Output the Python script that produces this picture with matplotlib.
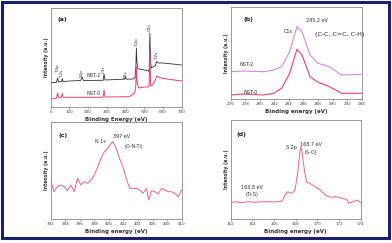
import matplotlib
matplotlib.use("Agg")
import matplotlib.pyplot as plt
from matplotlib.patches import Rectangle

# ---- panel (a): survey spectra ----
a_energy_nst2 = [0, 30, 37, 42, 58, 62, 66, 100, 160, 168, 175, 280, 285, 290, 395, 400, 405,
                 440, 450, 455, 458, 461, 465, 470, 500, 520, 526, 530, 534, 538, 545, 560,
                 566, 575, 600, 650, 700]
a_int_nst2 = [24.3, 24.5, 29, 25, 25.5, 28.5, 25.5, 26, 26.5, 30, 26.5, 26.7, 33, 27, 27.8, 30,
              27.8, 28, 29.3, 40, 59, 45, 39, 38, 37, 36.5, 35, 74, 45, 39, 40, 41.5,
              45.5, 44, 44, 43, 42]
a_energy_nst0 = [0, 30, 37, 42, 58, 62, 66, 100, 280, 285, 290, 420, 440, 450, 455, 458, 462,
                 470, 500, 520, 526, 530, 534, 540, 555, 566, 575, 600, 700]
a_int_nst0 = [8, 8.5, 14, 9.5, 9.7, 13.5, 9.8, 9.7, 9.7, 17, 10, 10.3, 12.7, 14.7, 22, 40, 24,
              19, 20, 20, 21, 57, 21, 21.5, 25, 31, 30, 28.5, 26]
a_peaks = ["Ti3p", "Ti3s", "S2p", "C1s", "N1s", "Ti2p", "O1s", "Ti2s"]
a_peak_pos = [37, 62, 166, 285, 402, 460, 530, 566]
a_peak_lab_y = [34, 29, 30, 34, 29, 60, 76, 47]

# ---- panel (b): C1s ----
b_energy = [276, 277.7, 280.5, 281.9, 283.0, 284.1, 285.1, 285.8, 286.9, 288.0, 289.6, 291.2, 294]
b_nst2 = [27.3, 28, 27.3, 29, 32.3, 47.3, 72.3, 67.3, 44, 35.7, 32.3, 24, 24.7]
b_nst0 = [4, 5, 4, 5.7, 10.7, 25.7, 49.7, 44, 22.3, 16.7, 12.3, 5.7, 5.7]

# ---- panel (c): N1s ----
c_energy = [392.0, 392.46, 392.92, 393.38, 393.85, 394.31, 394.77, 395.23, 395.69, 396.15,
            396.61, 397.08, 397.54, 398.0, 398.46, 398.92, 399.38, 399.85, 400.31, 400.54,
            401.0, 401.46, 401.92, 402.38, 402.85, 403.3, 403.77, 404.23, 404.7, 405.15,
            405.47, 405.85, 406.3, 406.77, 407.23, 407.7, 408.15, 408.6, 409.07, 409.54, 410]
c_int = [39, 27.3, 32.3, 34, 32.3, 28.3, 34, 27.3, 40.7, 34,
         37.3, 35.7, 39, 44, 52.3, 60.7, 67.3, 70.7, 75.7, 77.3,
         70.7, 60.7, 52.3, 40.7, 30.7, 30.7, 30.7, 29, 25.7, 30.7,
         19, 28.3, 27.3, 25, 30.7, 29, 27.3, 27.3, 25.7, 22.3, 29]

# ---- panel (d): S2p ----
d_energy = [162.0, 162.4, 163.0, 163.6, 164.25, 164.86, 165.48, 166.1, 166.77, 167.0, 167.26,
            167.63, 167.94, 168.18, 168.4, 168.5, 168.6, 168.8, 169.0, 169.3, 169.8, 170.25,
            170.86, 171.3, 171.8, 172.25, 172.7, 172.9, 173.3, 173.7, 174.0]
d_int = [16.3, 17.3, 16.3, 17.3, 16.7, 17.3, 17.3, 17, 18, 24, 27.3,
         25.7, 29, 45.7, 67.3, 72.3, 65.7, 49, 37.3, 35.7, 32.3, 29,
         23, 21.7, 22.3, 20.7, 19.7, 15.7, 17.3, 19, 16.3]

black = "#333333"
red = "#f0406a"
violet = "#d488e6"
pink = "#f2627e"
spine = "#8a8a8a"

fig = plt.figure(figsize=(3.92, 2.43), dpi=100)
fig.patches.append(Rectangle((1.5 / 392, 5 / 243), 387.5 / 392, 236 / 243,
                             transform=fig.transFigure, fill=False,
                             edgecolor="#1c1f6e", linewidth=2.2))

ax_a = fig.add_axes([0.1293, 0.5597, 0.3342, 0.4074])
ax_b = fig.add_axes([0.5885, 0.5926, 0.3342, 0.3774])
ax_c = fig.add_axes([0.1293, 0.0988, 0.3342, 0.3990])
ax_d = fig.add_axes([0.5885, 0.0988, 0.3316, 0.4074])


def style(ax, xlim, ylim, ticks, xlabel):
    ax.set_xlim(*xlim)
    ax.set_ylim(*ylim)
    ax.set_xticks(ticks)
    ax.set_yticks([])
    for s in ax.spines.values():
        s.set_color(spine)
        s.set_linewidth(0.6)
    ax.tick_params(axis="x", labelsize=3, length=1.5, width=0.5, pad=1,
                   colors=spine, labelcolor="#444444")
    ax.set_xlabel(xlabel, fontsize=4, fontweight="bold", labelpad=1.5, color="#333333")
    ax.set_ylabel("Intensity (a.u.)", fontsize=3.3, fontweight="bold", labelpad=1.5,
                  color="#333333")


# (a)
ax_a.plot(a_energy_nst2, a_int_nst2, color=black, lw=0.6)
ax_a.plot(a_energy_nst0, a_int_nst0, color=red, lw=0.7)
for name, e, y in zip(a_peaks, a_peak_pos, a_peak_lab_y):
    ax_a.text(e, y, name, rotation=90, fontsize=3, ha="center", va="bottom", color="#333333")
ax_a.text(228, 31, "NST-2", fontsize=3.5, ha="center", va="center", color="#333333")
ax_a.text(228, 13.7, "NST-0", fontsize=3.5, ha="center", va="center", color="#333333")
ax_a.text(39, 87, "(a)", fontsize=4.5, fontweight="bold", va="center", color="#222222")
style(ax_a, (0, 700), (0, 99), range(0, 701, 100), "Binding Energy (eV)")

# (b)
ax_b.plot(b_energy, b_nst2, color=violet, lw=0.8)
ax_b.plot(b_energy, b_nst0, color=red, lw=0.8)
ax_b.text(277.7, 79, "(b)", fontsize=4.5, fontweight="bold", va="center", color="#222222")
ax_b.text(283.9, 67.3, "C1s", fontsize=3.5, ha="center", va="center", color="#333333")
ax_b.text(287.9, 78.3, "285.2 eV", fontsize=3.5, ha="center", va="center", color="#333333")
ax_b.text(291, 64.7, "(C-C, C=C, C-H)", fontsize=4.6, ha="center", va="center", color="#222222")
ax_b.text(278.2, 34, "NST-2", fontsize=3.5, ha="center", va="center", color="#333333")
ax_b.text(278.8, 6.7, "NST-0", fontsize=3.5, ha="center", va="center", color="#333333")
style(ax_b, (276, 294), (0, 91.7), range(276, 295, 2), "Binding energy (eV)")

# (c)
ax_c.plot(c_energy, c_int, color=pink, lw=0.7)
ax_c.text(393.7, 84, "(c)", fontsize=4.5, fontweight="bold", ha="center", va="center",
          color="#222222")
ax_c.text(398.8, 77.3, "N 1s", fontsize=3.5, ha="center", va="center", color="#333333")
ax_c.text(401.7, 82.3, "397 eV", fontsize=3.5, ha="center", va="center", color="#333333")
ax_c.text(403.4, 72.3, "(O-N-Ti)", fontsize=3.5, ha="center", va="center", color="#333333")
style(ax_c, (392, 410), (0, 97), range(392, 411, 2), "Binding energy (eV)")

# (d)
ax_d.plot(d_energy, d_int, color=pink, lw=0.7)
ax_d.text(163.0, 84, "(d)", fontsize=4.5, fontweight="bold", ha="center", va="center",
          color="#222222")
ax_d.text(167.6, 71, "S 2p", fontsize=3.5, ha="center", va="center", color="#333333")
ax_d.text(169.4, 74, "168.7 eV", fontsize=3.5, ha="center", va="center", color="#333333")
ax_d.text(169.4, 66, "(S-O)", fontsize=3.5, ha="center", va="center", color="#333333")
ax_d.text(164.0, 31, "163.8 eV", fontsize=3.5, ha="center", va="center", color="#333333")
ax_d.text(164.0, 24, "(Ti-S)", fontsize=3.5, ha="center", va="center", color="#333333")
style(ax_d, (162, 174), (0, 99), range(162, 175, 2), "Binding energy (eV)")

fig.savefig("out.png", dpi=100)
